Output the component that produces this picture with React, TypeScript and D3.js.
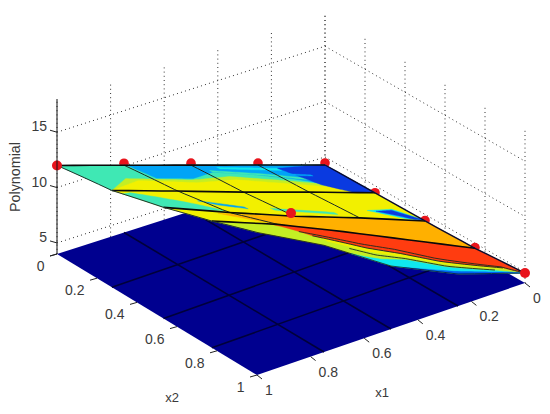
import React from "react";
import * as d3 from "d3";

// ---------- data (axis values) ----------
const zTicks = [5, 10, 15];
const zDomain = [4, 18];
const axisTicks = [0, 0.2, 0.4, 0.6, 0.8, 1];
const axisTickLabels = ["0", "0.2", "0.4", "0.6", "0.8", "1"];
const meshX1 = [1, 0.75, 0.5, 0.25, 0];
const meshX2 = [0, 0.25, 0.5, 0.75, 1];
// surface heights: rows follow meshX2, columns follow meshX1
const meshZ0 = [12.0, 10.08, 8.14, 6.21, 4.27];
const meshZ1 = [12.47, 10.44, 8.37, 6.39, 4.36];
const meshZ2 = [13.68, 11.21, 8.86, 6.7, 4.41];
const meshZ3 = [15.17, 12.83, 10.13, 7.33, 4.54];
const meshZ4 = [16.88, 13.64, 9.69, 6.89, 4.9];
const meshZ = [meshZ0, meshZ1, meshZ2, meshZ3, meshZ4];

// sample points [x1, x2, z]
const samplesBehind: number[][] = [
  [0.75, 0, 10.26], [0.5, 0, 8.32], [0.25, 0, 6.39], [0, 0, 4.45],
  [0, 0.25, 4.36], [0, 0.5, 4.45], [0, 0.75, 4.6],
  [0.75, 0.25, 10.52], [0.5, 0.25, 8.45], [0.25, 0.25, 6.47],
];
const samplesFront: number[][] = [
  [1, 0, 12.0], [0.5, 0.5, 9.14], [0, 1, 4.9],
];

// coloured regions on the surface, [x1, x2] vertices, painted in order
type Band = { color: string; pts: number[][] };
const AQUA = "#3fe8b4", YEL = "#f2f000", LIME = "#c4ee24", LBLUE = "#00a4f6", BLUE = "#0a3ae0";
const CYAN = "#10e8ee", ORANGE = "#ffb000", RED = "#ff3c10";
const bands: Band[] = [
  { color: AQUA, pts: [[1, 0], [0, 0], [0, 0.25], [1, 0.25]] },
  { color: YEL, pts: [[1, 0.25], [0, 0.25], [0, 0.5], [1, 0.5]] },
  { color: YEL, pts: [[1, 0.5], [0, 0.5], [0, 0.75], [1, 0.75]] },
  { color: LIME, pts: [[1, 0.75], [0, 0.75], [0, 1], [1, 1]] },
  { color: LIME, pts: [[1, 0.25], [0.85, 0.13], [0.61, 0.14], [0.44, 0.105], [0.23, 0.15], [0.08, 0.19], [0, 0.25]] },
  { color: YEL, pts: [[1, 0.25], [0.82, 0.15], [0.61, 0.165], [0.44, 0.135], [0.23, 0.18], [0.08, 0.21], [0, 0.25]] },
  { color: LBLUE, pts: [[0.74, 0], [0, 0], [0, 0.25], [0.09, 0.19], [0.21, 0.13], [0.34, 0.085], [0.47, 0.065], [0.59, 0.125], [0.73, 0.125]] },
  { color: AQUA, pts: [[0.47, 0.05], [0.3, 0.08], [0.16, 0.12], [0.16, 0.135], [0.3, 0.095], [0.47, 0.065]] },
  { color: CYAN, pts: [[0.42, 0.02], [0.2, 0.03], [0.2, 0.05], [0.42, 0.035]] },
  { color: BLUE, pts: [[0.2, 0.03], [0.03, 0], [0, 0], [0, 0.25], [0.08, 0.25], [0.15, 0.18]] },
  { color: LBLUE, pts: [[0.2, 0.08], [0.12, 0.09], [0.12, 0.1], [0.2, 0.095]] },
  { color: AQUA, pts: [[0.955, 0.28], [0.81, 0.41], [0.75, 0.48], [0.87, 0.5], [1, 0.5], [1, 0.3]] },
  { color: LBLUE, pts: [[0.765, 0.365], [0.63, 0.42], [0.63, 0.44], [0.72, 0.41]] },
  { color: AQUA, pts: [[0.53, 0.42], [0.31, 0.45], [0.31, 0.47], [0.53, 0.44]] },
  { color: CYAN, pts: [[0.16, 0.42], [0.05, 0.4], [0, 0.49], [0.06, 0.49]] },
  { color: BLUE, pts: [[0.13, 0.425], [0.06, 0.41], [0, 0.49], [0.03, 0.49]] },
  { color: ORANGE, pts: [[0.83, 0.55], [0.5, 0.5], [0, 0.5], [0, 0.75], [0.75, 0.75]] },
  { color: RED, pts: [[0.78, 0.75], [0, 0.75], [0, 1], [0.045, 0.95], [0.38, 0.88], [0.69, 0.85]] },
  { color: YEL, pts: [[0.66, 0.86], [0.38, 0.89], [0.045, 0.955], [0.38, 0.905], [0.66, 0.89]] },
  { color: CYAN, pts: [[0.65, 1], [0.5, 0.95], [0.39, 0.93], [0.09, 0.975], [0, 1]] },
  { color: "#0060f0", pts: [[0.45, 1], [0.25, 0.98], [0.05, 0.99], [0, 1]] },
];
// extra dark contour runs on the surface
const contourLines: number[][][] = [
  [[0.72, 0.82], [0.38, 0.85], [0.045, 0.94], [0, 1]],
  [[0.69, 0.85], [0.38, 0.88], [0.045, 0.95]],
  [[0.6, 0.92], [0.39, 0.92], [0.09, 0.97]],
];

// ---------- geometry of the box ----------
const cornerL = [57, 254]; // x1=1, x2=0
const cornerBack = [325, 168]; // x1=0, x2=0
const cornerFront = [257, 375]; // x1=1, x2=1
const cornerR = [525, 283]; // x1=0, x2=1

const zHeight = d3.scaleLinear().domain(zDomain).range([0, 155]);
const lerp = d3.interpolateNumber;
function floorPt(x1: number, x2: number): number[] {
  const a = [lerp(cornerBack[0], cornerL[0])(x1), lerp(cornerBack[1], cornerL[1])(x1)];
  const b = [lerp(cornerR[0], cornerFront[0])(x1), lerp(cornerR[1], cornerFront[1])(x1)];
  return [lerp(a[0], b[0])(x2), lerp(a[1], b[1])(x2)];
}
function project(x1: number, x2: number, z: number): number[] {
  const p = floorPt(x1, x2);
  return [p[0], p[1] - zHeight(z)];
}
// mesh cells are slightly wider at the x1=1 edge
const warp = (x1: number, x2: number) => x2 + 0.13 * x1 * x2 * (1 - x2);

const idx = d3.scaleLinear().domain([0, 1]).range([0, 4]);
function surfaceZ(x1: number, x2: number): number {
  const c = idx(1 - x1), r = idx(x2);
  const c0 = Math.min(3, Math.floor(c)), r0 = Math.min(3, Math.floor(r));
  const u = c - c0, v = r - r0;
  const t = lerp(meshZ[r0][c0], meshZ[r0][c0 + 1])(u);
  const b = lerp(meshZ[r0 + 1][c0], meshZ[r0 + 1][c0 + 1])(u);
  return lerp(t, b)(v);
}
function surfacePt(x1: number, x2: number): number[] {
  const p = project(x1, x2, surfaceZ(x1, x2));
  return [floorPt(x1, warp(x1, x2))[0], p[1]];
}
function dense(pts: number[][], close: boolean): number[][] {
  const out: number[][] = [];
  const n = close ? pts.length : pts.length - 1;
  for (let i = 0; i < n; i++) {
    const a = pts[i], b = pts[(i + 1) % pts.length];
    for (let k = 0; k < 16; k++) {
      out.push([a[0] + ((b[0] - a[0]) * k) / 16, a[1] + ((b[1] - a[1]) * k) / 16]);
    }
  }
  if (!close) out.push(pts[pts.length - 1]);
  return out;
}
const linePath = d3.line<number[]>().x((d) => d[0]).y((d) => d[1]);
const surfacePath = (pts: number[][], close: boolean) =>
  linePath(dense(pts, close).map((p) => surfacePt(p[0], p[1]))) + (close ? "Z" : "");

const FONT = "'Liberation Sans', Arial, sans-serif";
const TEXT = "#3a3a3a";
const DOT = { stroke: "#333", strokeWidth: 1, strokeDasharray: "1 3.2", fill: "none" } as const;

export default function App() {
  const topZ = zDomain[1], botZ = zDomain[0];
  const seg = (a: number[], b: number[], props: any, key: string) => (
    <line key={key} x1={a[0]} y1={a[1]} x2={b[0]} y2={b[1]} {...props} />
  );
  return (
    <svg width={550} height={414} style={{ position: "absolute", left: 0, top: 0, background: "#fff" }}>
      {/* walls: dotted grid */}
      {axisTicks.map((t) => seg(project(t, 0, botZ), project(t, 0, topZ), DOT, "wa" + t))}
      {axisTicks.map((t) => seg(project(0, t, botZ), project(0, t, topZ), DOT, "wb" + t))}
      {zTicks.map((z) => seg(project(1, 0, z), project(0, 0, z), DOT, "za" + z))}
      {zTicks.map((z) => seg(project(0, 0, z), project(0, 1, z), DOT, "zb" + z))}

      {/* floor */}
      <path
        d={linePath([floorPt(1, 0), floorPt(0, 0), floorPt(0, 1), floorPt(1, 1)]) + "Z"}
        fill="#00008f"
      />
      {meshX1.slice(1, 4).map((v) =>
        seg(floorPt(v, 0), floorPt(v, 1), { stroke: "#00003a", strokeWidth: 1.6 }, "fa" + v)
      )}
      {meshX2.slice(1, 4).map((v) =>
        seg(floorPt(0, v), floorPt(1, warp(1, v)), { stroke: "#00003a", strokeWidth: 1.6 }, "fb" + v)
      )}

      {/* samples hidden partly by the surface */}
      {samplesBehind.map((s, i) => {
        const p = project(s[0], s[1], s[2]);
        const q = floorPt(s[0], warp(s[0], s[1]));
        return <circle key={"sb" + i} cx={q[0]} cy={p[1]} r={s[1] > 0 && s[0] > 0 ? 3.2 : 4.8} fill="#e8141c" />;
      })}

      {/* surface */}
      {bands.map((b, i) => (
        <path key={"band" + i} d={surfacePath(b.pts, true)} fill={b.color} stroke={b.color} strokeWidth={0.4} />
      ))}
      {contourLines.map((c, i) => (
        <path key={"ct" + i} d={surfacePath(c, false)} fill="none" stroke="#1a2a20" strokeWidth={0.9} />
      ))}
      {meshX1.slice(1, 4).map((v) => (
        <path key={"m1" + v} d={surfacePath([[v, 0], [v, v > 0.6 ? 0.75 : 0.5]], false)} fill="none" stroke="#1c2c24" strokeWidth={1} />
      ))}
      {meshX2.map((v) => (
        <path key={"m2" + v} d={surfacePath([[1, v], [0, v]], false)} fill="none" stroke="#0a0a0a" strokeWidth={v === 1 ? 0.7 : 1.6} />
      ))}
      <path d={surfacePath([[1, 0], [1, 1]], false)} fill="none" stroke="#20352c" strokeWidth={1} />
      <path d={surfacePath([[0, 0], [0, 1]], false)} fill="none" stroke="#0a0a30" strokeWidth={1.4} />

      {samplesFront.map((s, i) => {
        const p = project(s[0], s[1], s[2]);
        return <circle key={"sf" + i} cx={p[0]} cy={p[1]} r={5} fill="#e8141c" />;
      })}

      {/* z axis */}
      {seg(project(1, 0, botZ), project(1, 0, topZ), { stroke: "#111", strokeWidth: 1 }, "zaxis")}
      {zTicks.map((z) => {
        const p = project(1, 0, z);
        return (
          <g key={"zt" + z}>
            <line x1={p[0] - 7} y1={p[1] - 2} x2={p[0]} y2={p[1]} stroke="#222" />
            <text x={p[0] - 10} y={p[1] - 1} fontSize={14} fontFamily={FONT} fill={TEXT} textAnchor="end">
              {z}
            </text>
          </g>
        );
      })}
      <line x1={50} y1={256} x2={57} y2={254} stroke="#222" />

      {/* x2 axis */}
      {axisTicks.map((t, i) => {
        const p = floorPt(1, t);
        return (
          <g key={"x2t" + t}>
            <line x1={p[0]} y1={p[1]} x2={p[0] - 7} y2={p[1] + 2} stroke="#222" />
            <text x={p[0] - 12.5} y={p[1] + 17} fontSize={14} fontFamily={FONT} fill={TEXT} textAnchor="end">
              {axisTickLabels[i]}
            </text>
          </g>
        );
      })}
      <text x={172} y={402} fontSize={13} fontFamily={FONT} fill={TEXT} textAnchor="middle">x2</text>

      {/* x1 axis */}
      {axisTicks.map((t, i) => {
        const p = floorPt(t, 1);
        return (
          <g key={"x1t" + t}>
            <line x1={p[0]} y1={p[1]} x2={p[0] + 5} y2={p[1] + 4} stroke="#222" />
            <text x={p[0] + 8} y={p[1] + 20} fontSize={14} fontFamily={FONT} fill={TEXT} textAnchor="start">
              {axisTickLabels[i]}
            </text>
          </g>
        );
      })}
      <text x={382} y={397} fontSize={13} fontFamily={FONT} fill={TEXT} textAnchor="middle">x1</text>

      <text
        transform="translate(20,177) rotate(-90)"
        fontSize={14.3}
        fontFamily={FONT}
        fill={TEXT}
        textAnchor="middle"
      >
        Polynomial
      </text>
    </svg>
  );
}
